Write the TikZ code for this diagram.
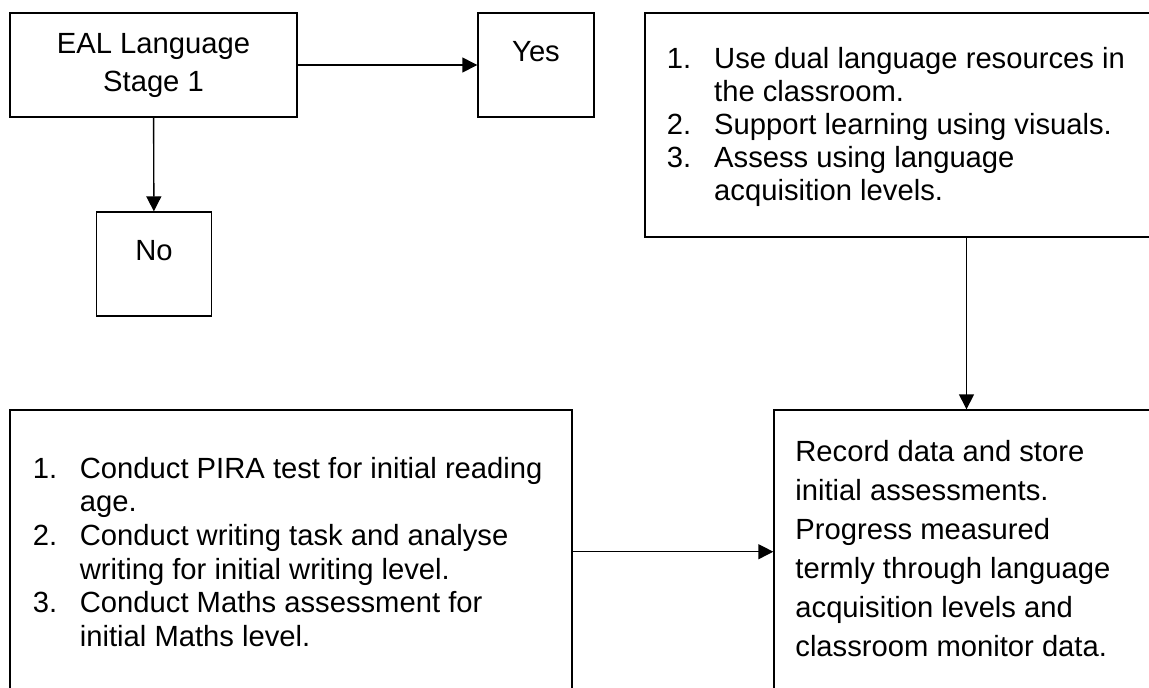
\documentclass[tikz,border=0pt]{standalone}
\usepackage{fontspec}
\setmainfont{Liberation Sans}
\usetikzlibrary{arrows.meta}
\begin{document}
\begin{tikzpicture}[x=0.5pt,y=-0.5pt,
  box/.style={draw, line width=0.7pt, inner sep=0pt, rectangle},
  conn/.style={line width=0.7pt, -{Triangle[length=7.5pt,width=7.5pt]}},
  txt/.style={inner sep=0pt},
]
\useasboundingbox (0,0) rectangle (1149,687);
\clip (0,0) rectangle (1149,687);
% boxes
\node[box, minimum width=143.5pt, minimum height=52pt] (eal) at (153.5,65) {};
\node[box, minimum width=58pt, minimum height=52pt] (yes) at (536,65) {};
\node[box, minimum width=57.5pt, minimum height=52pt] (no) at (154,264) {};
\node[box, minimum width=321.5pt, minimum height=112pt] (tr) at (966.5,125) {};
\node[box, minimum width=281pt, minimum height=141.7pt] (bl) at (291,551.7) {};
\node[box, minimum width=192.5pt, minimum height=141.7pt] (br) at (966.5,551.7) {};
% texts
\node[txt, anchor=base] (ealt) at (153.5,53) {\fontsize{14.6}{19}\selectfont
  \begin{tabular}[t]{@{}c@{}}EAL Language\\Stage 1\end{tabular}};
\node[txt, anchor=base] (yest) at (536,61) {\fontsize{14.6}{19}\selectfont Yes};
\node[txt, anchor=base] (not) at (154,260) {\fontsize{14.6}{19}\selectfont No};
\node[txt, anchor=base west] (trt) at (666.5,68) {\fontsize{14.6}{16.5}\selectfont
  \begin{tabular}[t]{@{}l@{}l@{}}
  \makebox[23.65pt][l]{1.}&Use dual language resources in\\
  &the classroom.\\
  2.&Support learning using visuals.\\
  3.&Assess using language\\
  &acquisition levels.
  \end{tabular}};
\node[txt, anchor=base west] (blt) at (32.5,478.3) {\fontsize{14.6}{16.8}\selectfont
  \begin{tabular}[t]{@{}l@{}l@{}}
  \makebox[23.5pt][l]{1.}&Conduct PIRA test for initial reading\\
  &age.\\
  2.&Conduct writing task and analyse\\
  &writing for initial writing level.\\
  3.&Conduct Maths assessment for\\
  &initial Maths level.
  \end{tabular}};
\node[txt, anchor=base west] (brt) at (795,461.7) {\fontsize{14.6}{19.45}\selectfont
  \begin{tabular}[t]{@{}l@{}}
  Record data and store\\
  initial assessments.\\
  Progress measured\\
  termly through language\\
  acquisition levels and\\
  classroom monitor data.
  \end{tabular}};
% connectors
\draw[conn] (eal) -- (yes);
\draw[conn] (eal) -- (no);
\draw[conn] (tr) -- (br);
\draw[conn] (bl) -- (br);
\end{tikzpicture}
\end{document}
